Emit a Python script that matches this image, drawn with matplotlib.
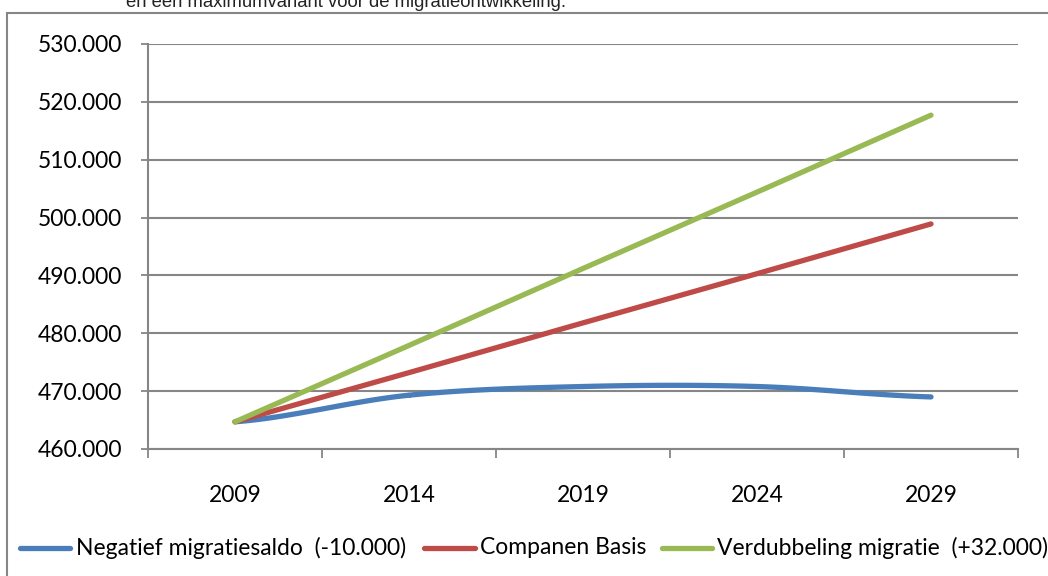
import numpy as np
import matplotlib
matplotlib.use("Agg")
import matplotlib.pyplot as plt
from matplotlib.lines import Line2D
from matplotlib.patches import Rectangle

# data (in thousands)
jaren = [2009, 2014, 2019, 2024, 2029]
negatief = [464.7, 469.3, 470.8, 470.8, 469.0]
basis = [464.7, 473.2, 481.8, 490.3, 498.9]
verdubbeling = [464.7, 477.9, 491.2, 504.4, 517.7]
series_namen = ["Negatief migratiesaldo  (-10.000)", "Companen Basis",
                "Verdubbeling migratie  (+32.000)"]
kleuren = ["#4A7EBB", "#BE4B48", "#98B954"]
y_ticks = [460, 470, 480, 490, 500, 510, 520, 530]


def smooth(x, y, n=30):
    # Excel-achtige gladde lijn (Catmull-Rom) door de punten
    x = np.asarray(x, float)
    y = np.asarray(y, float)
    px = np.concatenate([[2 * x[0] - x[1]], x, [2 * x[-1] - x[-2]]])
    py = np.concatenate([[y[0]], y, [y[-1]]])
    xs, ys = [], []
    for i in range(1, len(px) - 2):
        t = np.linspace(0, 1, n)
        for p, out in ((px, xs), (py, ys)):
            p0, p1, p2, p3 = p[i - 1], p[i], p[i + 1], p[i + 2]
            out.append(0.5 * ((2 * p1) + (-p0 + p2) * t
                              + (2 * p0 - 5 * p1 + 4 * p2 - p3) * t ** 2
                              + (-p0 + 3 * p1 - 3 * p2 + p3) * t ** 3))
    return np.concatenate(xs), np.concatenate(ys)


W, H = 1048, 576
fig = plt.figure(figsize=(W / 100, H / 100), dpi=100)
grijs = "#868686"

# kader van de grafiek
fig.patches.append(Rectangle((7 / W, -0.1), 1.2, 1 - 13 / H + 0.1, transform=fig.transFigure,
                             fill=False, edgecolor=grijs, linewidth=1.5))
fig.text(126 / W, 1 - 7 / H, "en een maximumvariant voor de migratieontwikkeling.",
         family="Liberation Sans", fontsize=13.3, va="baseline", ha="left", color="#222222")

ax = fig.add_axes([148 / W, (H - 449) / H, 870 / W, 405 / H])

for waarden, kleur in zip([negatief, basis, verdubbeling], kleuren):
    sx, sy = smooth(jaren, waarden) if waarden is negatief else (jaren, waarden)
    ax.plot(sx, sy, color=kleur, linewidth=3.8, solid_capstyle="round", zorder=3)

ax.set_xlim(2006.5, 2031.5)
ax.set_ylim(460, 530)
ax.set_yticks(y_ticks)
ax.set_yticklabels([f"{v}.000" for v in y_ticks])
ax.set_xticks(jaren)
ax.set_xticklabels([str(j) for j in jaren])
ax.set_xticks(np.arange(2006.5, 2032, 5), minor=True)
ax.tick_params(axis="x", which="major", length=0, pad=26)
ax.tick_params(axis="x", which="minor", length=6.5, width=1.3, color=grijs, direction="out")
ax.tick_params(axis="y", length=5, width=1.3, color=grijs, pad=13.7)
for lab in ax.get_xticklabels() + ax.get_yticklabels():
    lab.set_family("Lato")
    lab.set_fontsize(16.5)
ax.grid(axis="y", color=grijs, linewidth=1.5)
ax.set_axisbelow(True)
for s in ["top", "right"]:
    ax.spines[s].set_visible(False)
for s in ["left", "bottom"]:
    ax.spines[s].set_color(grijs)
    ax.spines[s].set_linewidth(1.5)

# legenda onderaan
posities = [(20, 70, 76), (424, 475, 480), (662, 712, 717)]
for naam, kleur, (x0, x1, xt) in zip(series_namen, kleuren, posities):
    yl = 1 - 548 / H
    fig.add_artist(Line2D([x0 / W, x1 / W], [yl, yl], transform=fig.transFigure,
                          color=kleur, linewidth=3.8, solid_capstyle="round"))
    fig.text(xt / W, yl, naam, family="Lato", fontsize=16.5, va="center", ha="left")

fig.savefig("out.png", dpi=100)
